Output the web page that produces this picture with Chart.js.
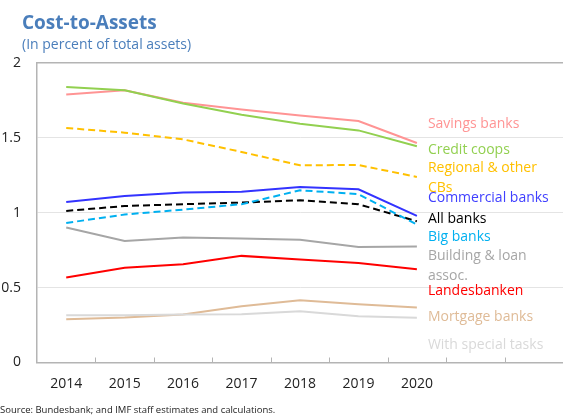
<!DOCTYPE html>
<html>
<head>
<meta charset="utf-8">
<script src="https://cdn.jsdelivr.net/npm/chart.js@4/dist/chart.umd.min.js"></script>
<style>
  html, body { margin: 0; padding: 0; background: #fff; }
  #wrap { position: relative; width: 563px; height: 415px; overflow: hidden; font-family: "Open Sans", sans-serif; }
  #c { position: absolute; left: 0; top: 0; }
  .t { position: absolute; white-space: nowrap; line-height: 1; }
  #title { left: 22px; top: 13px; font-size: 19px; font-weight: 700; color: #4a7ebb; }
  #sub { left: 22px; top: 36.5px; font-size: 14px; color: #4a7ebb; }
  #src { left: 0px; top: 404.5px; font-size: 9.5px; color: #222; }
</style>
</head>
<body>
<div id="wrap">
  <canvas id="c" width="563" height="415"></canvas>
  <div class="t" id="title">Cost-to-Assets</div>
  <div class="t" id="sub">(In percent of total assets)</div>
  <div class="t" id="src">Source: Bundesbank; and IMF staff estimates and calculations.</div>
</div>
<script>
// Categories (two empty slots on the right hold the series labels)
const years = ['2014', '2015', '2016', '2017', '2018', '2019', '2020', '', ''];
const yTicks = [0, 0.5, 1, 1.5, 2];

// Series values (percent of total assets)
const savingsBanks    = [1.79, 1.818, 1.735, 1.69, 1.65, 1.613, 1.466];
const creditCoops     = [1.84, 1.818, 1.73, 1.655, 1.595, 1.55, 1.444];
const regionalCBs     = [1.566, 1.535, 1.49, 1.406, 1.317, 1.319, 1.239];
const commercialBanks = [1.072, 1.112, 1.135, 1.14, 1.172, 1.157, 0.979];
const allBanks        = [1.012, 1.045, 1.057, 1.068, 1.083, 1.057, 0.943];
const bigBanks        = [0.932, 0.988, 1.021, 1.057, 1.15, 1.124, 0.921];
const buildingLoan    = [0.901, 0.812, 0.834, 0.828, 0.819, 0.772, 0.774];
const landesbanken    = [0.567, 0.632, 0.656, 0.712, 0.688, 0.665, 0.623];
const mortgageBanks   = [0.289, 0.30, 0.32, 0.376, 0.416, 0.389, 0.367];
const specialTasks    = [0.316, 0.316, 0.32, 0.322, 0.342, 0.309, 0.298];

// Series names (multi-line where wrapped in the original)
const seriesNames = [
  ['Savings banks'], ['Credit coops'], ['Regional & other', 'CBs'], ['Commercial banks'],
  ['All banks'], ['Big banks'], ['Building & loan', 'assoc.'], ['Landesbanken'],
  ['Mortgage banks'], ['With special tasks']
];
// Where each series name sits, in y-axis units
const labelAt = [1.591, 1.417, 1.297, 1.097, 0.956, 0.836, 0.709, 0.476, 0.302, 0.115];

const seriesData = [savingsBanks, creditCoops, regionalCBs, commercialBanks, allBanks,
  bigBanks, buildingLoan, landesbanken, mortgageBanks, specialTasks];
const lineColors = ['#ff9494', '#92d050', '#ffc000', '#3333ff', '#000000',
  '#00b0f0', '#a6a6a6', '#ff0000', '#dfbb97', '#d9d9d9'];
const textColors = ['#ff9494', '#92d050', '#ffc000', '#4040ff', '#000000',
  '#00b0f0', '#a6a6a6', '#ff0000', '#dfbb97', '#d9d9d9'];
const dashed = [false, false, true, false, true, true, false, false, false, false];

const FRAME = '#b4b4b4';
const FONT = '"Open Sans", sans-serif';

const datasets = seriesData.map((d, i) => ({
  label: seriesNames[i].join(' '),
  data: d,
  borderColor: lineColors[i],
  backgroundColor: lineColors[i],
  borderWidth: 2,
  borderDash: dashed[i] ? [7, 4] : [],
  pointRadius: 0,
  pointHoverRadius: 0,
  tension: 0,
  fill: false
})).reverse();

// Inward tick marks on the category axis, at the boundaries between categories
const innerTicksPlugin = {
  id: 'innerTicks',
  afterDraw(chart) {
    const xs = chart.scales.x;
    const ctx = chart.ctx;
    const n = xs.ticks.length;
    const half = (xs.getPixelForValue(1) - xs.getPixelForValue(0)) / 2;
    ctx.save();
    ctx.strokeStyle = FRAME;
    ctx.lineWidth = 1;
    ctx.beginPath();
    for (let i = 1; i < n; i++) {
      const px = Math.round(xs.getPixelForValue(i) - half) + 0.5;
      ctx.moveTo(px, xs.top);
      ctx.lineTo(px, xs.top - 5);
    }
    ctx.stroke();
    ctx.restore();
  }
};

const seriesLabelPlugin = {
  id: 'seriesLabels',
  afterDatasetsDraw(chart) {
    const ctx = chart.ctx;
    const xs = chart.scales.x, ys = chart.scales.y;
    const x = xs.getPixelForValue(6) + 11;
    ctx.save();
    ctx.font = '14px ' + FONT;
    ctx.textAlign = 'left';
    ctx.textBaseline = 'middle';
    seriesNames.forEach((lines, i) => {
      const y0 = ys.getPixelForValue(labelAt[i]);
      ctx.fillStyle = textColors[i];
      lines.forEach((ln, k) => ctx.fillText(ln, x, y0 + k * 20));
    });
    ctx.restore();
  }
};

new Chart(document.getElementById('c'), {
  type: 'line',
  data: { labels: years, datasets },
  plugins: [innerTicksPlugin, seriesLabelPlugin],
  options: {
    responsive: false,
    animation: false,
    events: [],
    layout: { padding: { top: 63, left: 0, right: 0, bottom: 0 } },
    plugins: { legend: { display: false }, title: { display: false }, tooltip: { enabled: false } },
    scales: {
      x: {
        type: 'category',
        offset: true,
        grid: { display: false, drawTicks: false },
        border: { display: true, color: FRAME, width: 1.5 },
        ticks: { color: '#222', font: { family: FONT, size: 14 }, padding: 13, maxRotation: 0, autoSkip: false },
        afterFit(s) { s.height = 415 - 63 - 299.5; }
      },
      xTop: {
        type: 'category',
        position: 'top',
        labels: years,
        offset: true,
        grid: { display: false, drawTicks: false },
        border: { display: true, color: FRAME, width: 1.5 },
        ticks: { display: false },
        afterFit(s) { s.height = 0; }
      },
      y: {
        min: 0,
        max: 2,
        afterBuildTicks(s) { s.ticks = yTicks.map(v => ({ value: v })); },
        grid: {
          drawTicks: false,
          color: c => (c.tick && (c.tick.value === 0 || c.tick.value === 2)) ? 'rgba(0,0,0,0)' : '#e4e4e4',
          lineWidth: 1
        },
        border: { display: true, color: FRAME, width: 1.5 },
        ticks: { color: '#222', font: { family: FONT, size: 14 }, padding: 16, callback: v => String(v) },
        afterFit(s) { s.width = 37; }
      }
    }
  }
});
</script>
</body>
</html>
